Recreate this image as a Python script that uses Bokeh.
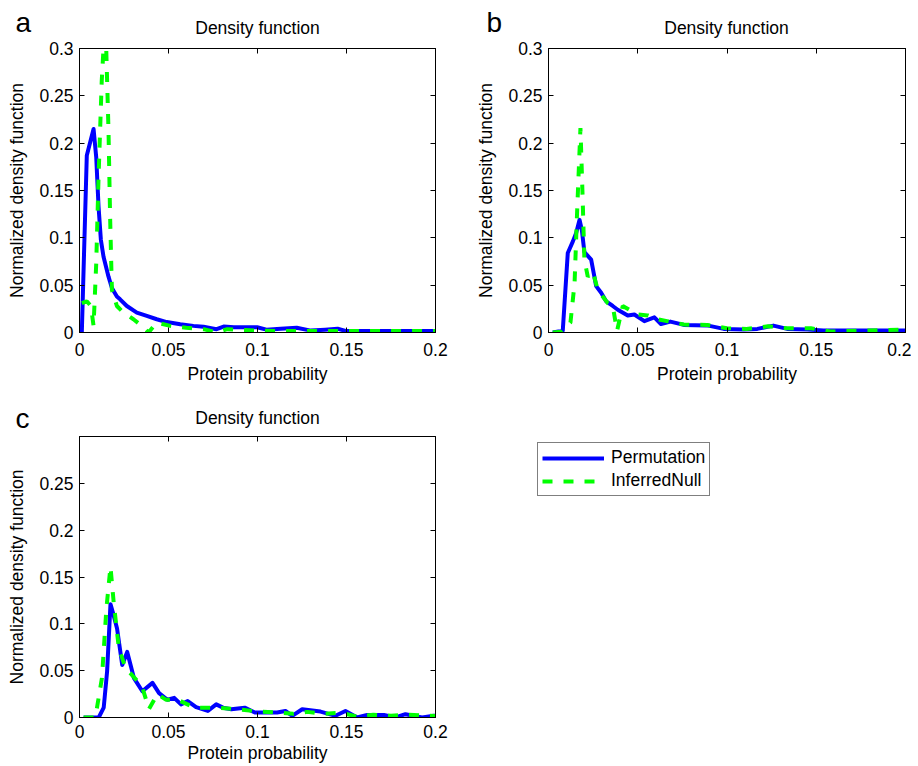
from bokeh.plotting import figure
from bokeh.models import (FixedTicker, LinearAxis, Label, Legend, LegendItem,
                          Range1d, CustomJSTickFormatter, ColumnDataSource)
from bokeh.layouts import column, row
from bokeh.embed import file_html
from bokeh.resources import INLINE

FONT = "Liberation Sans"
FS = "17.5px"
LETTER_FS = "28px"
BLUE = "#0000FF"
GREEN = "#00FF00"

x_ticks = [0, 0.05, 0.1, 0.15, 0.2]
x_tick_labels = ["0", "0.05", "0.1", "0.15", "0.2"]
y_ticks = [0, 0.05, 0.1, 0.15, 0.2, 0.25, 0.3]
y_tick_labels = ["0", "0.05", "0.1", "0.15", "0.2", "0.25", "0.3"]
y_ticks_c = [0, 0.05, 0.1, 0.15, 0.2, 0.25]
y_tick_labels_c = ["0", "0.05", "0.1", "0.15", "0.2", "0.25"]

series_names = ["Permutation", "InferredNull"]
panel_title = "Density function"
x_title = "Protein probability"
y_title = "Normalized density function"

# ---- panel a ----
perm_a_x = [0.0013, 0.0041, 0.0079, 0.0094, 0.0107, 0.012, 0.0135, 0.0163, 0.0182, 0.021,
            0.0228, 0.0266, 0.0322, 0.0378, 0.0434, 0.049, 0.0566, 0.064, 0.0697, 0.074,
            0.077, 0.081, 0.0867, 0.0998, 0.105, 0.113, 0.122, 0.13, 0.138, 0.145,
            0.150, 0.16, 0.17, 0.18, 0.19, 0.2]
perm_a_y = [0.0, 0.187, 0.215, 0.185, 0.133, 0.098, 0.080, 0.059, 0.047, 0.038,
            0.035, 0.028, 0.021, 0.0175, 0.014, 0.011, 0.0087, 0.007, 0.006, 0.0045,
            0.0035, 0.0063, 0.0055, 0.0055, 0.003, 0.004, 0.005, 0.002, 0.003, 0.004,
            0.0015, 0.0015, 0.0015, 0.0015, 0.0015, 0.0015]
null_a_x = [0.0013, 0.0041, 0.0064, 0.0079, 0.0094, 0.0107, 0.0125, 0.0145, 0.0163, 0.0172,
            0.0182, 0.021, 0.0247, 0.0303, 0.035, 0.0388, 0.0434, 0.051, 0.060, 0.0697,
            0.077, 0.083, 0.098, 0.11, 0.13, 0.15, 0.17, 0.2]
null_a_y = [0.031, 0.033, 0.028, 0.007, 0.073, 0.164, 0.266, 0.335, 0.213, 0.122,
            0.045, 0.028, 0.021, 0.014, 0.007, 0.0, 0.0105, 0.007, 0.005, 0.0035,
            0.0, 0.0035, 0.002, 0.0015, 0.0015, 0.0015, 0.0015, 0.0015]

# ---- panel b ----
perm_b_x = [0.0024, 0.008, 0.0108, 0.0136, 0.0155, 0.0174, 0.0187, 0.0201, 0.0239, 0.0267,
            0.0295, 0.0323, 0.036, 0.0388, 0.0444, 0.0481, 0.0537, 0.0593, 0.063, 0.0683,
            0.0758, 0.0889, 0.0982, 0.1094, 0.117, 0.126, 0.1337, 0.145, 0.154, 0.175, 0.2]
perm_b_y = [0.0, 0.002, 0.084, 0.096, 0.105, 0.119, 0.108, 0.085, 0.077, 0.049,
            0.042, 0.033, 0.028, 0.024, 0.018, 0.019, 0.012, 0.016, 0.009, 0.0115,
            0.008, 0.0075, 0.0038, 0.0031, 0.0038, 0.0073, 0.0038, 0.0031, 0.002, 0.002, 0.002]
null_b_x = [0.0024, 0.0071, 0.0123, 0.0146, 0.016, 0.0179, 0.019, 0.0201, 0.022, 0.0248,
            0.0276, 0.0332, 0.036, 0.0384, 0.0416, 0.0453, 0.05, 0.0556, 0.0612, 0.0664,
            0.0758, 0.0889, 0.1, 0.111, 0.123, 0.1337, 0.147, 0.158, 0.175, 0.2]
null_b_y = [0.0, 0.0007, 0.0105, 0.052, 0.126, 0.216, 0.15, 0.077, 0.059, 0.0645,
            0.045, 0.031, 0.028, 0.0017, 0.028, 0.024, 0.019, 0.018, 0.014, 0.012,
            0.0084, 0.008, 0.0045, 0.0038, 0.0066, 0.0045, 0.0045, 0.001, 0.002, 0.003]

# ---- panel c ----
perm_c_x = [0.0023, 0.0108, 0.0136, 0.0155, 0.0174, 0.0192, 0.0211, 0.024, 0.0268, 0.0287,
            0.0306, 0.0353, 0.041, 0.0447, 0.0494, 0.0532, 0.057, 0.0608, 0.0655, 0.0721,
            0.0768, 0.0806, 0.0853, 0.0928, 0.0985, 0.1017, 0.111, 0.1157, 0.1195, 0.1251,
            0.1354, 0.1438, 0.1494, 0.156, 0.1616, 0.171, 0.1775, 0.1831, 0.1925, 0.199, 0.2]
perm_c_y = [0.0, 0.0, 0.0105, 0.049, 0.121, 0.109, 0.095, 0.056, 0.070, 0.056,
            0.042, 0.028, 0.037, 0.026, 0.019, 0.021, 0.014, 0.0175, 0.011, 0.007,
            0.014, 0.0105, 0.0088, 0.0105, 0.0053, 0.0053, 0.0053, 0.007, 0.0018, 0.0088,
            0.0063, 0.0018, 0.007, 0.0, 0.0028, 0.0028, 0.0, 0.0035, 0.0, 0.0018, 0.0018]
null_c_x = [0.0023, 0.0089, 0.0126, 0.0151, 0.0174, 0.0192, 0.0221, 0.0258, 0.0325, 0.0353,
            0.039, 0.0438, 0.0485, 0.0551, 0.0645, 0.0758, 0.089, 0.1004, 0.111, 0.12,
            0.128, 0.137, 0.147, 0.156, 0.165, 0.175, 0.185, 0.2]
null_c_y = [0.0, 0.0, 0.042, 0.116, 0.161, 0.123, 0.074, 0.053, 0.039, 0.032,
            0.009, 0.025, 0.019, 0.019, 0.0105, 0.0105, 0.0088, 0.0063, 0.0053, 0.004,
            0.006, 0.004, 0.005, 0.001, 0.003, 0.002, 0.003, 0.0015]


def style_axis(ax, ticks, labels, show_labels=True, standoff=6):
    ax.ticker = FixedTicker(ticks=ticks)
    ax.major_tick_in = 5
    ax.major_tick_out = 0
    ax.minor_tick_line_color = None
    ax.axis_line_color = "black"
    ax.major_tick_line_color = "black"
    if show_labels:
        ax.major_label_overrides = {t: s for t, s in zip(ticks, labels)}
        ax.major_label_text_font = FONT
        ax.major_label_text_font_size = FS
        ax.major_label_text_color = "black"
        ax.major_label_standoff = standoff
    else:
        ax.formatter = CustomJSTickFormatter(code="return ''")
        ax.major_label_text_font_size = "1px"
        ax.major_label_standoff = 0


def make_panel(px, py, nx, ny, width, height, bl, br, bt, bb,
               yt, ytl, xstandoff, xlabel_standoff):
    p = figure(width=width, height=height, output_backend="svg", toolbar_location=None,
               x_range=Range1d(0, 0.2), y_range=Range1d(0, 0.3), title=None,
               min_border_left=bl, min_border_right=br, min_border_top=bt,
               min_border_bottom=bb)
    p.background_fill_color = "white"
    p.border_fill_color = "white"
    p.outline_line_color = "black"
    p.grid.visible = False

    style_axis(p.xaxis[0], x_ticks, x_tick_labels, True, xstandoff)
    style_axis(p.yaxis[0], yt, ytl, True, 6)
    p.xaxis[0].axis_label = x_title
    p.yaxis[0].axis_label = y_title
    for ax in (p.xaxis[0], p.yaxis[0]):
        ax.axis_label_text_font = FONT
        ax.axis_label_text_font_size = FS
        ax.axis_label_text_font_style = "normal"
        ax.axis_label_text_color = "black"
    p.xaxis[0].axis_label_standoff = xlabel_standoff
    p.yaxis[0].axis_label_standoff = 9

    top_ax = LinearAxis()
    style_axis(top_ax, x_ticks, x_tick_labels, False)
    p.add_layout(top_ax, "above")
    right_ax = LinearAxis()
    style_axis(right_ax, yt, ytl, False)
    p.add_layout(right_ax, "right")

    sp = ColumnDataSource(data=dict(x=px, y=py))
    sn = ColumnDataSource(data=dict(x=nx, y=ny))
    p.line("x", "y", source=sp, line_color=BLUE, line_width=4, line_join="round")
    p.line("x", "y", source=sn, line_color=GREEN, line_width=4, line_dash="10 11")
    return p, sp, sn


def blank(width, height, top=0, bottom=0):
    h = figure(width=width, height=height, output_backend="svg", toolbar_location=None,
               x_axis_type=None, y_axis_type=None, x_range=Range1d(0, 0.2),
               y_range=Range1d(0, 0.3), title=None, min_border_left=0,
               min_border_right=0, min_border_top=top, min_border_bottom=bottom)
    h.outline_line_color = None
    h.background_fill_color = "white"
    h.border_fill_color = "white"
    return h


def header(width, height, items):
    h = blank(width, height)
    for (txt, x, y, size, align) in items:
        h.add_layout(Label(x=x, y=y, x_units="screen", y_units="screen", text=txt,
                           text_font=FONT, text_font_size=size, text_color="black",
                           text_align=align, text_baseline="middle"))
    return h


head1 = header(911, 38, [("a", 15, 16.2, LETTER_FS, "left"),
                         (panel_title, 257, 10.5, FS, "center"),
                         ("b", 486, 16.2, LETTER_FS, "left"),
                         (panel_title, 726, 10.5, FS, "center")])
pa, _, _ = make_panel(perm_a_x, perm_a_y, null_a_x, null_a_y,
                      460, 348, 79, 25, 10, 52, y_ticks, y_tick_labels, 10, 5)
pb, _, _ = make_panel(perm_b_x, perm_b_y, null_b_x, null_b_y,
                      451, 348, 88, 6, 10, 52, y_ticks, y_tick_labels, 10, 5)
head2 = header(911, 48, [("c", 15, 16.5, LETTER_FS, "left"),
                         (panel_title, 257, 17, FS, "center")])
pc, src_p, src_n = make_panel(perm_c_x, perm_c_y, null_c_x, null_c_y,
                              460, 331, 79, 25, 2, 45, y_ticks_c, y_tick_labels_c, 7, 2)

# legend panel: keys come from hidden renderers that share panel c's data
legfig = blank(451, 331, top=2, bottom=45)
key_p = legfig.line("x", "y", source=src_p, line_color=BLUE, line_width=4, visible=False)
key_n = legfig.line("x", "y", source=src_n, line_color=GREEN, line_width=4,
                    line_dash="10 11", visible=False)
legend = Legend(items=[LegendItem(label=series_names[0], renderers=[key_p]),
                       LegendItem(label=series_names[1], renderers=[key_n])],
                location=(77, 221))
legend.click_policy = "none"
legend.border_line_color = "black"
legend.border_line_width = 1
legend.background_fill_color = "white"
legend.background_fill_alpha = 1
legend.label_text_font = FONT
legend.label_text_font_size = FS
legend.label_text_color = "black"
legend.glyph_width = 62
legend.glyph_height = 18
legend.label_height = 18
legend.spacing = 2
legend.padding = 4
legend.margin = 0
legend.label_standoff = 7
legfig.add_layout(legend, "center")

layout = column(row(head1), row(pa, pb), row(head2), row(pc, legfig))
open("out.html", "w").write(file_html(layout, INLINE))
